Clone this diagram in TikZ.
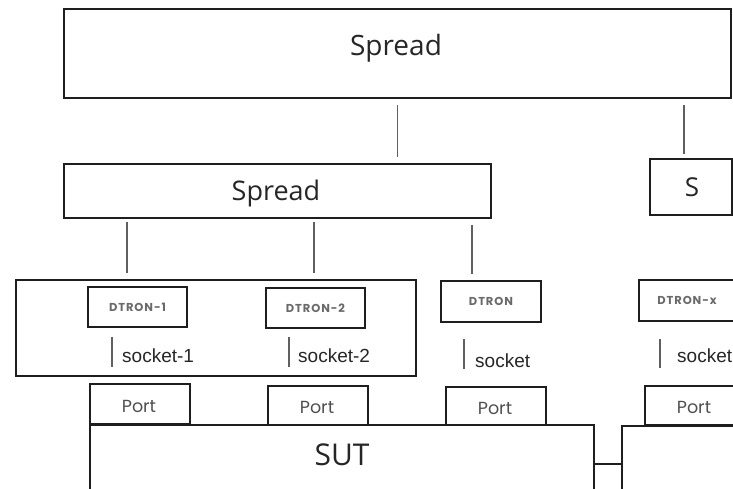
\documentclass[tikz,border=0pt]{standalone}
\usepackage{fontspec}
\setmainfont{Liberation Sans}
\newfontfamily\headfont{Open Sans}
\newfontfamily\tagfont[LetterSpace=8]{Poppins}
\newfontfamily\portfont{Poppins}
\usetikzlibrary{calc}

\definecolor{edge}{HTML}{1E1E1E}
\definecolor{wire}{HTML}{606060}
\definecolor{ink}{HTML}{262626}
\definecolor{soft}{HTML}{505050}

\tikzset{
  box/.style={draw=edge, line width=2pt, fill=white, inner sep=0pt,
              anchor=north west},
  link/.style={draw=wire, line width=1.3pt},
  bus/.style={draw=edge, line width=1.3pt},
  head/.style={font=\headfont\fontsize{28}{30}\selectfont, text=ink,
               anchor=base, inner sep=0pt},
  porttxt/.style={font=\portfont\fontsize{17.5}{19}\selectfont, text=soft,
                  anchor=base, inner sep=0pt},
  tagtxt/.style={font=\tagfont\bfseries\fontsize{11.5}{13}\selectfont,
                 text=soft!85, inner sep=0pt},
  socktxt/.style={font=\fontsize{19}{21}\selectfont, text=ink,
                  anchor=base west, inner sep=0pt},
}

\begin{document}
\begin{tikzpicture}[x=1pt,y=-1pt]
  \useasboundingbox (0,0) rectangle (733,488);
  \fill[white] (0,0) rectangle (733,488);
  \clip (0,0) rectangle (733,488);

  % upper levels
  \node[box, minimum width=667pt, minimum height=89pt] (top) at (63,8) {};
  \node[head] at (396,55) {Spread};
  \node[box, minimum width=427pt, minimum height=54pt] (mid) at (63,163) {};
  \node[head, font=\headfont\fontsize{27}{29}\selectfont] at (276,200) {Spread};
  \node[box, minimum width=82pt, minimum height=56pt] (s) at (649,158) {};
  \node[head, font=\headfont\fontsize{26}{28}\selectfont] at (692,196) {S};

  \draw[link, shorten <=6pt, shorten >=6pt] (top.south) -- (top.south |- mid.north);
  \draw[link, shorten <=6pt, shorten >=4pt]
    ([xshift=-48pt]top.south east) -- ([xshift=-48pt]top.south east |- s.north);

  % group of two daemons
  \node[box, minimum width=400pt, minimum height=96pt] (grp) at (15,279) {};
  \node[box, minimum width=99pt, minimum height=40pt] (d1) at (87,286) {};
  \node[tagtxt] at (d1.center) {DTRON-1};
  \node[box, minimum width=99pt, minimum height=40pt] (d2) at (265,287) {};
  \node[tagtxt] at (d2.center) {DTRON-2};
  \node[box, minimum width=100pt, minimum height=41pt] (d3) at (440,280) {};
  \node[tagtxt] at (d3.center) {DTRON};
  \node[box, minimum width=100pt, minimum height=41pt] (d4) at (638,279) {};
  \node[tagtxt] at ([xshift=-2pt]d4.center) {DTRON-x};

  \draw[link, shorten <=3pt, shorten >=6pt]
    ([xshift=64pt]mid.south west) -- ([xshift=64pt]mid.south west |- grp.north);
  \draw[link, shorten <=3pt, shorten >=6pt]
    ([xshift=251pt]mid.south west) -- ([xshift=251pt]mid.south west |- grp.north);
  \draw[link, shorten <=6pt, shorten >=6pt]
    ([xshift=-20pt]mid.south east) -- ([xshift=-20pt]mid.south east |- d3.north);

  % ports
  \node[box, minimum width=100pt, minimum height=40pt] (p1) at (89,383) {};
  \node[porttxt] at (139,412) {Port};
  \node[box, minimum width=100pt, minimum height=39pt] (p2) at (267,385) {};
  \node[porttxt] at (317,413) {Port};
  \node[box, minimum width=100pt, minimum height=39pt] (p3) at (445,386) {};
  \node[porttxt] at (495,414) {Port};
  \node[box, minimum width=100pt, minimum height=39pt] (p4) at (644,385) {};
  \node[porttxt] at (694,413) {Port};

  % socket markers
  \draw[link, shorten <=9pt, shorten >=16pt]
    ([xshift=25pt]d1.south west) -- ([xshift=25pt]d1.south west |- p1.north);
  \node[socktxt] at (122,362) {socket-1};
  \draw[link, shorten <=8pt, shorten >=18pt]
    ([xshift=24pt]d2.south west) -- ([xshift=24pt]d2.south west |- p2.north);
  \node[socktxt] at (298,362) {socket-2};
  \draw[link, shorten <=16pt, shorten >=17pt]
    ([xshift=24pt]d3.south west) -- ([xshift=24pt]d3.south west |- p3.north);
  \node[socktxt] at (475,367) {socket};
  \draw[link, shorten <=17pt, shorten >=17pt]
    ([xshift=22pt]d4.south west) -- ([xshift=22pt]d4.south west |- p4.north);
  \node[socktxt] at (677,362) {socket};

  % systems under test
  \node[box, minimum width=504pt, minimum height=90pt] (sut) at (89,424) {};
  \node[head, font=\headfont\fontsize{30}{32}\selectfont] at (342,465) {SUT};
  \node[box, minimum width=140pt, minimum height=90pt] (sut2) at (621,425) {};
  \draw[bus] ([yshift=-40pt]sut.north east) -- ([yshift=-40pt]sut.north east -| sut2.west);
\end{tikzpicture}
\end{document}
